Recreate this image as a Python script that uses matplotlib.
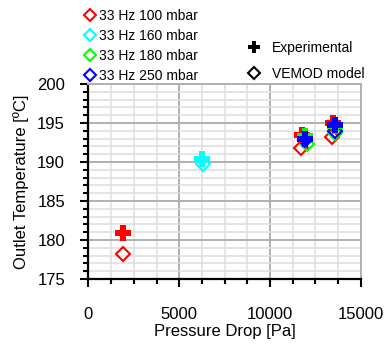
import matplotlib
matplotlib.use('Agg')
import matplotlib.pyplot as plt
from matplotlib.lines import Line2D
from matplotlib.ticker import MultipleLocator

plt.rcParams['font.family'] = ['Liberation Sans', 'DejaVu Sans']

# data
labels = ['33 Hz 100 mbar', '33 Hz 160 mbar', '33 Hz 180 mbar', '33 Hz 250 mbar']
colors = ['#ff0000', '#00ffff', '#00ff00', '#0000ff']

exp_dp = [[1925, 11750, 13450], [6270], [11950, 13550], [11920, 13570]]
exp_T = [[180.9, 193.5, 195.0], [190.4], [193.3, 194.6], [193.0, 194.7]]

mod_dp = [[1900, 11680, 13420], [6300], [12010, 13600], [11900, 13560]]
mod_T = [[178.2, 191.8, 193.2], [189.8], [192.3, 193.7], [192.8, 194.0]]

fig = plt.figure(figsize=(3.86, 3.47), dpi=100)
ax = fig.add_axes([0.229, 0.196, 0.706, 0.562])

for i in range(len(labels)):
    ax.plot(mod_dp[i], mod_T[i], ls='none', marker='D', ms=6.7, mfc='none',
            mec=colors[i], mew=1.5, zorder=3)
for i in range(len(labels)):
    ax.plot(exp_dp[i], exp_T[i], ls='none', marker='P', ms=12,
            color=colors[i], mew=0, zorder=4)

ax.set_xlim(0, 15000)
ax.set_ylim(175, 200)
ax.xaxis.set_major_locator(MultipleLocator(5000))
ax.xaxis.set_minor_locator(MultipleLocator(1250))
ax.yaxis.set_major_locator(MultipleLocator(5))
ax.yaxis.set_minor_locator(MultipleLocator(1))
ax.grid(which='major', color='#b0b0b0', lw=1.4)
ax.grid(which='minor', color='#dedede', lw=1.1)
ax.set_axisbelow(True)

for s in ['top', 'right']:
    ax.spines[s].set_color('#b0b0b0')
    ax.spines[s].set_linewidth(1.4)
for s in ['left', 'bottom']:
    ax.spines[s].set_color('black')
    ax.spines[s].set_linewidth(1.6)

ax.tick_params(which='major', direction='out', length=5.8, width=1.5, labelsize=12)
ax.tick_params(which='minor', direction='out', length=3.8, width=1.5)
ax.tick_params(axis='x', which='both', pad=14.5)
ax.tick_params(axis='y', which='both', pad=11)

ax.set_xlabel('Pressure Drop [Pa]', fontsize=12, labelpad=1.5)
ax.set_ylabel('Outlet Temperature [ºC]', fontsize=12, labelpad=6)

h1 = [Line2D([], [], ls='none', marker='D', ms=6.4, mfc='none', mec=c, mew=1.5)
      for c in colors]
leg1 = fig.legend(h1, labels, loc='upper left', bbox_to_anchor=(0.217, 0.974),
                  frameon=False, fontsize=10, handlelength=0.9, handletextpad=0.2,
                  labelspacing=0.43, borderpad=0, borderaxespad=0)

h2 = [Line2D([], [], ls='none', marker='P', ms=8.8, color='black', mew=0),
      Line2D([], [], ls='none', marker='D', ms=6.2, mfc='none', mec='black', mew=1.5)]
leg2 = fig.legend(h2, ['Experimental', 'VEMOD model'], loc='upper left',
                  bbox_to_anchor=(0.640, 0.881), frameon=False, fontsize=10,
                  handlelength=1.0, handletextpad=0.77, labelspacing=0.85,
                  borderpad=0, borderaxespad=0)

fig.savefig('out.png', dpi=100)
